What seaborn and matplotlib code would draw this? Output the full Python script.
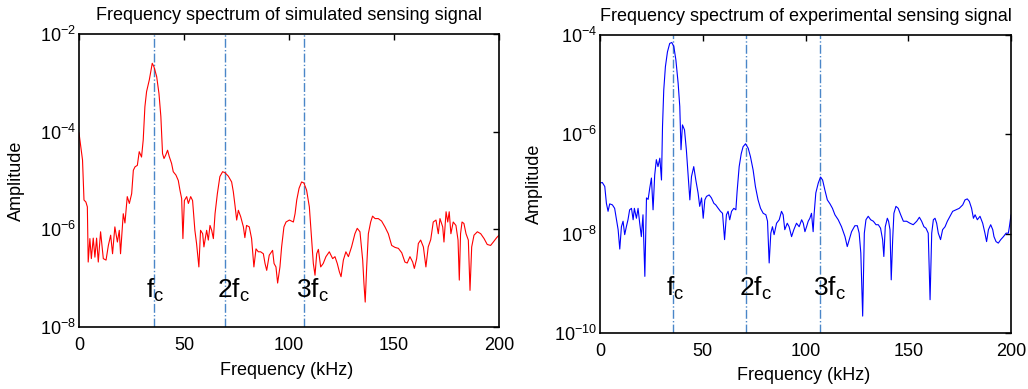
import numpy as np
import pandas as pd
import matplotlib
matplotlib.use("Agg")
import matplotlib.pyplot as plt
import seaborn as sns

# ---------------- data ----------------
sim_freq = [0, 1.7, 2.4, 3.3, 4.0, 4.4, 5.2, 5.9, 6.8, 7.6, 8.4, 9.2, 10.3, 11.6, 12.9, 14.0,
            15.1, 16.0, 17.1, 18.3, 19.2, 19.8, 21.1, 21.9, 23.0, 24.0, 25.1, 25.9, 26.7, 27.8,
            28.7, 29.8, 30.6, 31.4, 32.2, 33.5, 34.9, 35.7, 37.0, 38.1, 39.0, 39.8, 40.5, 41.3,
            42.2, 43.0, 44.1, 44.9, 46.2, 47.3, 48.1, 48.9, 49.5, 50.2, 51.3, 52.1, 53.2, 54.1,
            55.2, 56.0, 57.1, 57.9, 58.9, 59.5, 60.8, 61.6, 62.4, 63.2, 64.0, 64.8, 65.9, 67.1,
            68.4, 69.5, 71.1, 72.7, 73.5, 74.3, 75.1, 75.9, 77.0, 78.3, 79.0, 79.8, 81.1, 82.2,
            83.3, 84.3, 85.4, 86.5, 87.8, 88.6, 89.4, 90.6, 92.2, 92.9, 93.8, 94.6, 95.7, 96.5,
            97.6, 98.6, 100.2, 102.1, 102.9, 103.7, 104.8, 106.0, 107.1, 108.4, 109.7, 110.8,
            111.6, 112.4, 113.2, 114.0, 115.1, 116.3, 117.6, 119.2, 120.8, 121.9, 123.0, 124.0,
            124.8, 125.9, 127.1, 128.3, 129.8, 131.4, 132.5, 133.8, 135.1, 135.7, 136.3, 137.0,
            137.8, 138.9, 139.8, 141.0, 142.5, 144.1, 145.7, 147.3, 148.9, 150.5, 152.1, 153.7,
            155.2, 156.3, 157.6, 158.9, 159.7, 160.8, 161.6, 162.7, 164.0, 165.2, 166.3, 167.5,
            168.7, 170.0, 171.1, 171.9, 173.2, 173.8, 174.8, 175.6, 176.3, 177.1, 178.2, 179.5,
            180.5, 181.1, 181.7, 182.4, 183.3, 184.3, 185.4, 186.2, 187.0, 188.1, 189.7, 191.3,
            192.9, 194.4, 196.0, 197.3, 198.9, 200.0]
sim_log_amp = [-4.02, -4.58, -5.40, -5.44, -5.54, -6.67, -6.19, -6.60, -6.18, -6.57, -6.18, -6.67,
               -6.05, -6.60, -6.63, -6.33, -6.12, -6.50, -5.95, -6.26, -6.02, -6.50, -5.68, -5.87,
               -5.33, -5.47, -5.27, -4.79, -4.72, -4.69, -4.41, -4.52, -4.17, -3.49, -3.18, -2.94,
               -2.60, -2.67, -2.87, -3.22, -3.69, -4.45, -4.55, -4.48, -4.38, -4.51, -4.65, -4.82,
               -4.89, -5.00, -5.20, -5.37, -6.19, -5.41, -5.33, -5.47, -5.33, -5.41, -6.02, -6.29,
               -6.77, -6.02, -6.09, -6.36, -6.02, -6.22, -5.92, -6.02, -6.19, -5.68, -5.27, -4.92,
               -4.82, -4.84, -4.91, -5.03, -5.23, -5.51, -5.81, -5.61, -5.74, -5.95, -6.17, -5.92,
               -5.95, -6.19, -6.77, -6.40, -6.46, -6.46, -6.50, -6.70, -6.84, -6.53, -6.43, -6.70,
               -6.77, -7.10, -6.77, -6.36, -5.95, -5.85, -5.81, -5.85, -5.68, -5.40, -5.16, -5.03,
               -5.05, -5.20, -5.54, -6.22, -6.70, -6.94, -6.50, -6.41, -6.77, -6.70, -6.56, -6.46,
               -6.60, -6.56, -6.70, -6.87, -6.97, -6.63, -6.46, -6.56, -6.36, -6.09, -5.98, -6.05,
               -6.63, -7.11, -7.49, -6.77, -6.09, -5.85, -5.73, -5.78, -5.78, -5.83, -5.95, -6.09,
               -6.33, -6.37, -6.39, -6.48, -6.67, -6.69, -6.56, -6.67, -6.80, -6.60, -6.29, -6.22,
               -6.36, -6.77, -6.36, -6.21, -5.85, -5.81, -6.09, -5.78, -5.95, -6.26, -5.64, -5.85,
               -5.64, -6.09, -5.85, -5.92, -6.22, -7.04, -6.09, -5.85, -5.88, -6.09, -6.22, -7.25,
               -6.36, -6.12, -6.05, -6.09, -6.19, -6.31, -6.33, -6.26, -6.17, -6.12]

exp_freq = [0, 1.1, 2.3, 3.1, 3.9, 4.7, 6.0, 7.1, 8.0, 8.8, 9.6, 10.4, 11.2, 12.0, 12.8, 13.6,
            14.4, 15.3, 16.1, 16.7, 17.7, 18.5, 19.3, 20.1, 20.9, 21.8, 22.6, 23.4, 24.2, 25.0,
            25.8, 26.6, 27.4, 28.2, 29.1, 29.9, 30.4, 31.0, 31.8, 32.8, 33.9, 34.9, 35.9, 36.9,
            38.0, 38.8, 39.4, 40.1, 41.1, 42.0, 42.9, 43.7, 44.5, 45.6, 46.6, 47.7, 48.5, 49.4,
            50.2, 51.0, 51.8, 53.1, 54.2, 55.4, 56.3, 57.5, 58.6, 59.6, 60.6, 61.5, 62.3, 63.1,
            64.0, 65.1, 66.1, 66.7, 67.7, 68.7, 69.6, 70.8, 72.1, 73.2, 74.5, 75.6, 76.9, 78.1,
            79.4, 80.7, 81.5, 82.3, 83.1, 83.9, 84.7, 85.9, 87.2, 88.3, 89.1, 89.9, 91.1, 92.0,
            93.2, 94.3, 95.6, 96.9, 98.1, 98.9, 99.7, 100.5, 101.3, 102.1, 102.9, 103.7, 104.2,
            105.0, 106.2, 107.3, 108.3, 109.4, 110.6, 111.9, 113.1, 114.3, 115.9, 117.5, 119.2,
            120.3, 121.3, 122.4, 124.0, 125.2, 126.1, 126.9, 127.8, 128.6, 129.4, 130.5, 131.7,
            133.0, 134.3, 135.4, 136.5, 137.5, 138.1, 138.8, 139.8, 140.4, 141.1, 141.7, 142.4,
            143.0, 144.0, 145.1, 146.3, 147.6, 149.2, 150.8, 152.4, 154.1, 155.4, 156.5, 157.6,
            158.6, 159.7, 160.6, 161.4, 162.2, 163.0, 163.8, 164.6, 165.7, 166.7, 167.9, 169.0,
            170.3, 171.6, 173.2, 174.8, 176.5, 177.6, 178.7, 179.7, 180.8, 181.7, 182.5, 183.6,
            184.9, 186.2, 187.3, 188.1, 189.0, 190.1, 191.1, 191.7, 192.7, 193.8, 195.0, 196.3,
            197.6, 198.7, 199.2, 200.0]
exp_log_amp = [-6.98, -6.97, -7.05, -7.39, -7.55, -7.40, -7.42, -7.49, -7.72, -7.92, -8.31, -7.86,
               -7.75, -8.02, -7.86, -7.72, -7.52, -7.49, -7.72, -7.49, -7.69, -7.49, -7.79, -8.06,
               -7.62, -8.86, -7.28, -7.31, -7.08, -6.88, -7.52, -6.82, -6.51, -6.65, -6.48, -6.92,
               -5.84, -5.11, -4.64, -4.34, -4.17, -4.15, -4.23, -4.50, -4.97, -5.44, -6.31, -5.81,
               -5.91, -6.31, -6.85, -7.32, -6.85, -6.65, -6.92, -7.18, -7.45, -7.28, -7.69, -7.32,
               -7.25, -7.22, -7.28, -7.39, -7.42, -7.49, -7.55, -7.59, -8.12, -7.62, -7.55, -7.72,
               -7.55, -7.49, -7.52, -7.15, -6.65, -6.39, -6.25, -6.19, -6.28, -6.45, -6.72, -7.05,
               -7.32, -7.49, -7.59, -7.62, -7.75, -8.59, -7.99, -7.86, -8.02, -7.79, -7.72, -7.55,
               -7.62, -7.92, -7.79, -7.86, -8.06, -7.92, -7.79, -7.86, -7.72, -7.79, -7.96, -7.86,
               -7.75, -7.69, -7.59, -7.96, -7.59, -7.18, -6.98, -6.86, -6.92, -7.12, -7.32, -7.40,
               -7.49, -7.62, -7.72, -7.86, -8.06, -8.26, -8.12, -7.96, -7.84, -7.84, -7.99, -8.39,
               -9.66, -7.99, -7.72, -7.65, -7.72, -7.75, -7.82, -7.82, -7.89, -8.12, -8.46, -7.86,
               -7.69, -7.75, -7.92, -8.93, -8.12, -7.59, -7.45, -7.49, -7.62, -7.75, -7.75, -7.79,
               -7.82, -7.75, -7.67, -7.75, -7.86, -7.89, -7.99, -9.33, -7.99, -7.72, -7.69, -7.79,
               -7.99, -8.12, -7.92, -7.86, -7.75, -7.65, -7.55, -7.52, -7.49, -7.42, -7.32, -7.30,
               -7.35, -7.49, -7.69, -7.62, -7.72, -7.65, -7.79, -7.99, -8.16, -7.92, -7.82, -7.92,
               -8.06, -8.16, -8.19, -8.12, -8.06, -7.99, -7.99, -7.86, -7.62]

sim_harmonics = [35.5, 69.5, 107.0]
exp_harmonics = [35.5, 71.0, 107.0]
harmonic_labels = [r'$\mathregular{f_c}$', r'$\mathregular{2f_c}$', r'$\mathregular{3f_c}$']

titles = ["Frequency spectrum of simulated sensing signal",
          "Frequency spectrum of experimental sensing signal"]
x_ticks = [0, 50, 100, 150, 200]
sim_y_ticks = [1e-8, 1e-6, 1e-4, 1e-2]
exp_y_ticks = [1e-10, 1e-8, 1e-6, 1e-4]

# ---------------- style ----------------
sns.set_theme(style="white")
plt.rcParams['font.family'] = ['Liberation Sans', 'DejaVu Sans']
plt.rcParams['mathtext.fontset'] = 'custom'
plt.rcParams['mathtext.rm'] = 'Liberation Sans'
plt.rcParams['mathtext.it'] = 'Liberation Sans'
plt.rcParams['axes.unicode_minus'] = False
plt.rcParams['text.color'] = 'black'
plt.rcParams['axes.labelcolor'] = 'black'
plt.rcParams['xtick.color'] = 'black'
plt.rcParams['ytick.color'] = 'black'
plt.rcParams['axes.titlecolor'] = 'black'

fig = plt.figure(figsize=(10.28, 3.89), dpi=100)
ax1 = fig.add_axes([0.0768, 0.1594, 0.4086, 0.7532])
ax2 = fig.add_axes([0.5837, 0.1440, 0.3998, 0.7660])

sim_df = pd.DataFrame({"Frequency": sim_freq, "Amplitude": 10.0 ** np.array(sim_log_amp)})
exp_df = pd.DataFrame({"Frequency": exp_freq, "Amplitude": 10.0 ** np.array(exp_log_amp)})

panels = [
    (ax1, sim_df, '#ff0000', sim_harmonics, sim_y_ticks, titles[0], -7.25, -0.129, -0.119),
    (ax2, exp_df, '#0000ff', exp_harmonics, exp_y_ticks, titles[1], -9.10, -0.139, -0.114),
]

for ax, df, color, harms, yticks, title, label_log, ylab_x, xlab_y in panels:
    ax.set_yscale('log')
    sns.lineplot(data=df, x="Frequency", y="Amplitude", ax=ax, color=color,
                 linewidth=0.8, estimator=None, sort=False)
    for h, lab in zip(harms, harmonic_labels):
        ax.axvline(h, color='#4a86c8', linestyle='-.', linewidth=1.0, zorder=1)
        ax.text(h - 3.6, 10.0 ** label_log, lab, fontsize=19, ha='left', va='center',
                color='black', zorder=3)
    ax.set_xlim(0, 200)
    ax.set_ylim(yticks[0], yticks[-1])
    ax.set_xticks(x_ticks)
    ax.set_yticks(yticks)
    ax.yaxis.set_minor_locator(matplotlib.ticker.NullLocator())
    ax.tick_params(axis='both', which='major', direction='in', length=4, width=1,
                   labelsize=13, top=True, right=True, color='black', labelcolor='black')
    ax.tick_params(axis='x', pad=7)
    ax.tick_params(axis='y', pad=2)
    for s in ax.spines.values():
        s.set_color('black')
        s.set_linewidth(1.2)
    ax.set_xlabel("Frequency (kHz)", fontsize=13, color='black')
    ax.set_ylabel("Amplitude", fontsize=13, color='black')
    ax.xaxis.set_label_coords(0.495, xlab_y)
    ax.yaxis.set_label_coords(ylab_x, 0.5)
    ax.set_title(title, fontsize=13, pad=10, color='black')

fig.savefig("out.png", dpi=100)
